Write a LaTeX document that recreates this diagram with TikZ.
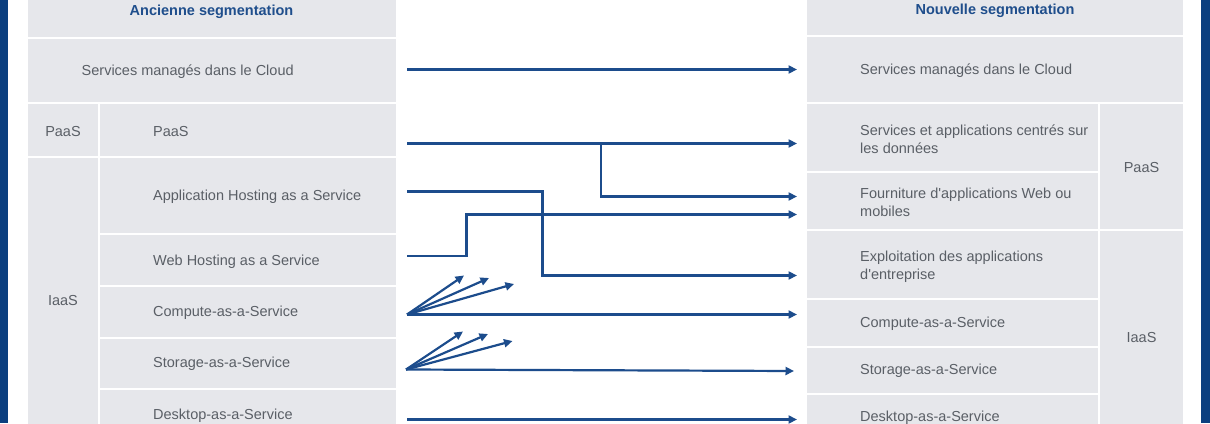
\documentclass[tikz,border=0pt]{standalone}
\usepackage{fontspec}
\setmainfont{Liberation Sans}
\usetikzlibrary{arrows.meta}
\definecolor{cellgray}{HTML}{E6E7EB}
\definecolor{bar}{HTML}{0B3F7F}
\definecolor{lineblue}{HTML}{1C4C8C}
\definecolor{headblue}{HTML}{1F4E8C}
\definecolor{txtgray}{HTML}{5A5F66}
\begin{document}
\begin{tikzpicture}[x=1pt,y=-1pt,
  cell/.style={fill=cellgray,draw=none,inner sep=0pt,anchor=north west},
  txt/.style={inner sep=0pt,text=txtgray,font=\fontsize{14.5}{18}\selectfont,align=left,yshift=-1.5pt},
  head/.style={inner sep=0pt,text=headblue,font=\fontsize{14.5}{18}\selectfont\bfseries,yshift=-1.5pt},
  arr/.style={draw=lineblue,line width=2.2pt,-{Triangle[length=8.5pt,width=8pt]}},
  link/.style={draw=lineblue,line width=2.2pt}]
\useasboundingbox (0,0) rectangle (1210,423);
\clip (0,0) rectangle (1210,423);
\fill[white] (0,0) rectangle (1210,423);
% side bars
\fill[bar] (0,0) rectangle (8,423);
\fill[bar] (1201,0) rectangle (1209.5,423);
% left table
\node[cell,minimum width=368,minimum height=36.5] (lhead) at (28,0) {};
\node[cell,minimum width=368,minimum height=63.5] (lsvc) at (28,38.5) {};
\node[cell,minimum width=70,minimum height=51.5] (lpaas1) at (28,104) {};
\node[cell,minimum width=296,minimum height=51.5] (lpaas2) at (100,104) {};
\node[cell,minimum width=70,minimum height=283] (liaas) at (28,157.5) {};
\node[cell,minimum width=296,minimum height=75.5] (lapp) at (100,157.5) {};
\node[cell,minimum width=296,minimum height=49.5] (lweb) at (100,235) {};
\node[cell,minimum width=296,minimum height=50] (lcomp) at (100,286.5) {};
\node[cell,minimum width=296,minimum height=49.5] (lstor) at (100,338.5) {};
\node[cell,minimum width=296,minimum height=48] (ldesk) at (100,390) {};
% right table
\node[cell,minimum width=376,minimum height=35] (rhead) at (807,0) {};
\node[cell,minimum width=376,minimum height=65] (rsvc) at (807,37) {};
\node[cell,minimum width=291,minimum height=67] (rdata) at (807,104) {};
\node[cell,minimum width=291,minimum height=55.5] (rweb) at (807,173) {};
\node[cell,minimum width=83,minimum height=124.5] (rpaas) at (1100,104) {};
\node[cell,minimum width=291,minimum height=67.5] (rent) at (807,230.5) {};
\node[cell,minimum width=291,minimum height=46] (rcomp) at (807,300) {};
\node[cell,minimum width=291,minimum height=45] (rstor) at (807,348) {};
\node[cell,minimum width=291,minimum height=44] (rdesk) at (807,395) {};
\node[cell,minimum width=83,minimum height=211] (riaas) at (1100,230.5) {};
% left texts
\node[head] (tlhead) at (211.5,10) {Ancienne segmentation};
\node[txt,anchor=west] (tlsvc) at (81.5,70.5) {Services managés dans le Cloud};
\node[txt] (tlpaas1) at (63,130) {PaaS};
\node[txt,anchor=west] (tlpaas2) at (153,130) {PaaS};
\node[txt] (tliaas) at (63,299) {IaaS};
\node[txt,anchor=west] (tlapp) at (153,195.5) {Application Hosting as a Service};
\node[txt,anchor=west] (tlweb) at (153,260) {Web Hosting as a Service};
\node[txt,anchor=west] (tlcomp) at (153,311) {Compute-as-a-Service};
\node[txt,anchor=west] (tlstor) at (153,362.5) {Storage-as-a-Service};
\node[txt,anchor=west] (tldesk) at (153,414) {Desktop-as-a-Service};
% right texts
\node[head] (trhead) at (995,9) {Nouvelle segmentation};
\node[txt,anchor=west] (trsvc) at (860,69.5) {Services managés dans le Cloud};
\node[txt,anchor=west] (trdata) at (860,137.5) {Services et applications centrés sur\\les données};
\node[txt,anchor=west] (trweb) at (860,201) {Fourniture d\textquotesingle applications Web ou\\mobiles};
\node[txt] (trpaas) at (1141.5,166.5) {PaaS};
\node[txt,anchor=west] (trent) at (860,265) {Exploitation des applications\\d\textquotesingle entreprise};
\node[txt,anchor=west] (trcomp) at (860,322.5) {Compute-as-a-Service};
\node[txt,anchor=west] (trstor) at (860,369.5) {Storage-as-a-Service};
\node[txt,anchor=west] (trdesk) at (860,416.5) {Desktop-as-a-Service};
\node[txt] (triaas) at (1141.5,336) {IaaS};
% connector coordinates
\coordinate (s1) at (407,69.5);  \coordinate (e1) at (797,69.5);
\coordinate (s2) at (407,143.5); \coordinate (e2) at (797,143.5);
\coordinate (b2) at (601,143.5); \coordinate (b2d) at (601,196.5); \coordinate (e2b) at (797,196.5);
\coordinate (s3) at (407,191.5); \coordinate (k3a) at (542.5,191.5); \coordinate (k3b) at (542.5,275.5); \coordinate (e3) at (797,275.5);
\coordinate (s4) at (407,256);   \coordinate (k4a) at (466.5,256); \coordinate (k4b) at (466.5,214.5); \coordinate (e4) at (797,214.5);
\coordinate (s5) at (407,314.5); \coordinate (e5) at (797,314.5);
\coordinate (f5a) at (464,275.5); \coordinate (f5b) at (489,278); \coordinate (f5c) at (514,284);
\coordinate (s6) at (406,369.5); \coordinate (e6) at (794,371);
\coordinate (f6a) at (463,331.5); \coordinate (f6b) at (488,334); \coordinate (f6c) at (512.5,341);
\coordinate (s7) at (407,419.5); \coordinate (e7) at (797,419.5);
% connectors
\draw[arr] (s1) -- (e1);
\draw[arr] (s2) -- (e2);
\draw[arr] (b2) -- (b2d) -- (e2b);
\draw[arr] (s3) -- (k3a) -- (k3b) -- (e3);
\draw[arr] (s4) -- (k4a) -- (k4b) -- (e4);
\draw[arr] (s5) -- (e5);
\draw[arr] (s5) -- (f5a);
\draw[arr] (s5) -- (f5b);
\draw[arr] (s5) -- (f5c);
\draw[arr] (s6) -- (e6);
\draw[arr] (s6) -- (f6a);
\draw[arr] (s6) -- (f6b);
\draw[arr] (s6) -- (f6c);
\draw[arr] (s7) -- (e7);
\end{tikzpicture}
\end{document}
